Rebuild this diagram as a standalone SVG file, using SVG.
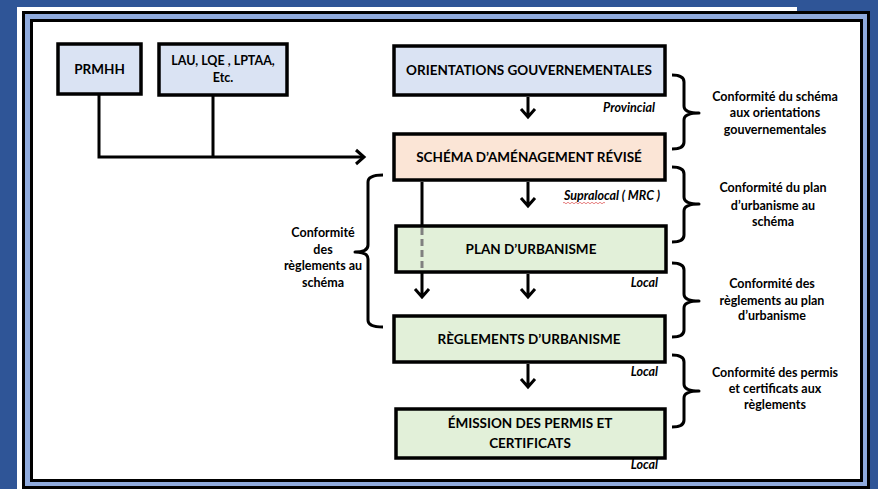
<svg xmlns="http://www.w3.org/2000/svg" width="878" height="489" viewBox="0 0 878 489">
<style>
.box{stroke:#000;stroke-width:3.5}
.blue{fill:#dae3f3}
.peach{fill:#fbe5d6}
.green{fill:#e2f0d9}
.t{font-family:Lato,"Open Sans",sans-serif;font-weight:bold;fill:#000;text-anchor:middle}
.bt{font-size:13.5px}
.sm{font-size:12.5px}
.lv{font-family:Lato,"Open Sans",sans-serif;font-weight:bold;font-style:italic;font-size:12.5px;text-anchor:end;fill:#000}
.ln{fill:none;stroke:#000;stroke-width:3}
.br{fill:none;stroke:#000;stroke-width:3;stroke-linejoin:round}
</style>
<rect x="0" y="0" width="878" height="489" fill="#2f5597"/>
<rect x="17" y="7" width="780" height="482" fill="#ffffff"/>
<rect x="23.5" y="12.5" width="845" height="475" fill="#8faadc" stroke="#000" stroke-width="3"/>
<rect x="31.5" y="20.5" width="830" height="460" fill="#ffffff" stroke="#000" stroke-width="3"/>

<g id="prmhh">
<rect class="box blue" x="58" y="44" width="83" height="50"/>
<text class="t bt" x="99.5" y="74">PRMHH</text>
</g>
<g id="lau">
<rect class="box blue" x="159" y="44" width="128" height="51"/>
<text class="t sm" x="223" y="65">LAU, LQE , LPTAA,</text>
<text class="t sm" x="223" y="82">Etc.</text>
</g>
<g id="orientations">
<rect class="box blue" x="394" y="46" width="271" height="49"/>
<text class="t bt" x="529" y="75">ORIENTATIONS GOUVERNEMENTALES</text>
<text class="lv" x="655" y="112">Provincial</text>
</g>
<g id="schema">
<rect class="box peach" x="394" y="134" width="271" height="46"/>
<text class="t bt" x="529" y="162">SCHÉMA D’AMÉNAGEMENT RÉVISÉ</text>
<text class="lv" x="660" y="200">Supralocal ( MRC )</text>
<path d="M563,203 q1,-1.5 2,0 t2,0 t2,0 t2,0 t2,0 t2,0 t2,0 t2,0 t2,0 t2,0 t2,0 t2,0 t2,0 t2,0 t2,0 t2,0 t2,0 t2,0 t2,0 t2,0 t2,0" fill="none" stroke="#e06060" stroke-width="0.8"/>
</g>
<g id="plan">
<rect class="box green" x="396" y="226" width="270" height="46"/>
<text class="t bt" x="531" y="254">PLAN D’URBANISME</text>
<text class="lv" x="658" y="287">Local</text>
</g>
<g id="reglements">
<rect class="box green" x="394" y="316" width="271" height="46"/>
<text class="t bt" x="529" y="344">RÈGLEMENTS D’URBANISME</text>
<text class="lv" x="658" y="376">Local</text>
</g>
<g id="emission">
<rect class="box green" x="396" y="409" width="269" height="49"/>
<text class="t bt" x="530" y="428">ÉMISSION DES PERMIS ET</text>
<text class="t bt" x="530" y="448">CERTIFICATS</text>
<text class="lv" x="658" y="469">Local</text>
</g>

<g id="connectors">
<path class="ln" d="M99,95 V157 H364 M213,96 V157"/>
<path class="ln" d="M356,150 L364,157 L356,164"/>
<path class="ln" d="M528,97 V117 M521,109 L528,117 L535,109"/>
<path class="ln" d="M528,182 V206 M521,198 L528,206 L535,198"/>
<path class="ln" d="M422,182 V225 M422,272 V297 M415,289 L422,297 L429,289"/>
<path fill="none" stroke="#808080" stroke-width="3" stroke-dasharray="7,4" d="M422,228 V270"/>
<path class="ln" d="M528,274 V297 M521,289 L528,297 L535,289"/>
<path class="ln" d="M528,364 V387 M521,379 L528,387 L535,379"/>
</g>

<g id="brace-left">
<path class="br" d="M383,175 Q368,175 368,182 V245 Q368,252 355,252 Q368,252 368,259 V320 Q368,327 383,327"/>
<text class="t sm" x="323" y="237">Conformité</text>
<text class="t sm" x="323" y="254">des</text>
<text class="t sm" x="323" y="270">règlements au</text>
<text class="t sm" x="323" y="287">schéma</text>
</g>
<g id="brace-1">
<path class="br" d="M672,75 Q684,75 684,82 V106 Q684,113 699,113 Q684,113 684,120 V142 Q684,149 672,149"/>
<text class="t sm" x="775" y="101">Conformité du schéma</text>
<text class="t sm" x="775" y="117">aux orientations</text>
<text class="t sm" x="775" y="134">gouvernementales</text>
</g>
<g id="brace-2">
<path class="br" d="M672,167 Q684,167 684,174 V197 Q684,204 699,204 Q684,204 684,211 V235 Q684,242 672,242"/>
<text class="t sm" x="773" y="192">Conformité du plan</text>
<text class="t sm" x="773" y="210">d’urbanisme au</text>
<text class="t sm" x="773" y="226">schéma</text>
</g>
<g id="brace-3">
<path class="br" d="M672,263 Q684,263 684,270 V294 Q684,301 699,301 Q684,301 684,308 V330 Q684,337 672,337"/>
<text class="t sm" x="772" y="288">Conformité des</text>
<text class="t sm" x="772" y="305">règlements au plan</text>
<text class="t sm" x="772" y="320">d’urbanisme</text>
</g>
<g id="brace-4">
<path class="br" d="M672,355 Q684,355 684,362 V384 Q684,391 699,391 Q684,391 684,398 V420 Q684,427 672,427"/>
<text class="t sm" x="775" y="377">Conformité des permis</text>
<text class="t sm" x="775" y="393">et certificats aux</text>
<text class="t sm" x="775" y="409">règlements</text>
</g>
</svg>
